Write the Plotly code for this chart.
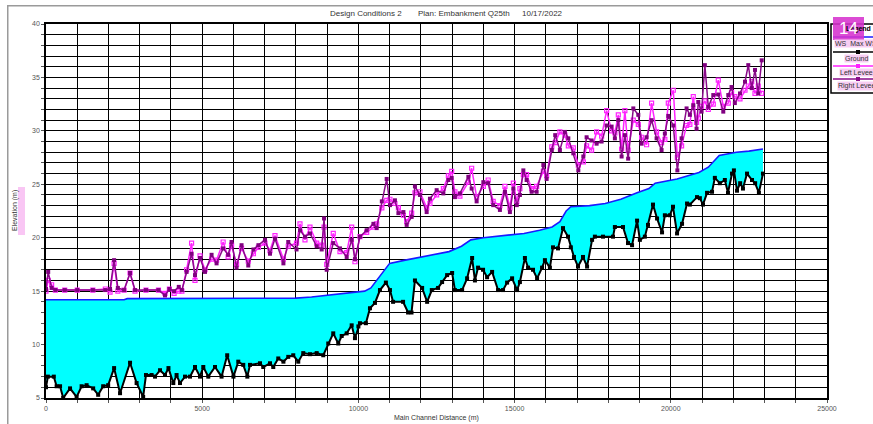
import plotly.graph_objects as go

# ---------------- data ----------------
ground_x = [0, 60, 250, 340, 450, 550, 770, 980, 1140, 1300, 1510, 1670, 1830, 1990, 2180, 2370,
            2690, 2900, 3110, 3200, 3380, 3490, 3650, 3810, 3920, 4075, 4180, 4290, 4450, 4610,
            4770, 4930, 5035, 5195, 5410, 5620, 5800, 6000, 6155, 6315, 6445, 6530, 6850, 6955,
            7170, 7275, 7435, 7600, 7755, 7915, 8075, 8235, 8450, 8665, 8875, 9035, 9195, 9355,
            9465, 9625, 9785, 9890, 10000, 10050, 10240, 10370, 10530, 10690, 10880, 11010, 11110,
            11430, 11590, 11700, 11810, 12040, 12200, 12350, 12550, 12680, 12840, 13000, 13090,
            13320, 13480, 13640, 13730, 13830, 13990, 14120, 14280, 14470, 14630, 14760, 14920,
            15080, 15170, 15330, 15430, 15590, 15720, 15880, 15970, 16130, 16230, 16390, 16550,
            16710, 16800, 16900, 17030, 17190, 17320, 17480, 17570, 17830, 18150, 18210, 18470,
            18630, 18760, 18920, 19010, 19170, 19270, 19430, 19560, 19720, 19810, 19970, 20070,
            20200, 20360, 20520, 20610, 20840, 20930, 21030, 21160, 21320, 21410, 21570, 21730,
            21830, 21960, 22020, 22120, 22220, 22310, 22440, 22600, 22700, 22820, 22950]
ground_y = [6.0, 7.0, 7.0, 6.1, 6.1, 5.0, 5.9, 5.1, 6.1, 6.2, 5.9, 5.3, 6.1, 6.2, 7.8, 5.45,
            8.3, 6.4, 5.1, 7.15, 7.15, 7.0, 7.6, 7.15, 7.8, 6.4, 7.15, 6.4, 7.0, 7.0,
            7.9, 7.0, 7.9, 7.0, 7.9, 7.0, 9.0, 7.0, 8.4, 8.1, 7.0, 8.1, 8.25, 7.9,
            8.25, 7.9, 8.7, 8.4, 8.85, 9.0, 8.4, 9.2, 9.1, 9.2, 9.0, 10.1, 11.05, 10.1,
            10.8, 11.05, 11.8, 10.6, 11.7, 12.0, 12.0, 13.4, 13.9, 15.1, 15.8, 15.1, 14.0,
            14.0, 13.0, 13.0, 16.0, 15.3, 14.0, 15.1, 15.3, 15.85, 16.5, 16.7, 15.1,
            15.1, 16.2, 18.1, 16.0, 17.2, 17.0, 16.3, 16.8, 15.1, 15.1, 15.8, 16.2,
            15.1, 15.85, 18.1, 17.2, 17.0, 16.2, 17.2, 17.9, 17.2, 19.1, 19.0, 20.9,
            20.1, 19.1, 18.2, 17.3, 18.2, 17.3, 19.8, 20.1, 20.1, 20.1, 21.0, 21.0,
            19.5, 19.3, 21.6, 19.8, 20.1, 21.2, 23.1, 21.8, 20.5, 22.1, 22.1, 22.9,
            20.4, 21.3, 23.2, 23.1, 23.8, 23.7, 23.1, 24.2, 24.3, 25.6, 25.1, 25.4,
            24.2, 26.0, 26.3, 24.4, 25.1, 24.6, 26.0, 25.4, 25.1, 24.2, 26.0]

ws_x = [0, 2500, 2600, 8000, 8500, 9000, 9400, 10000, 10200, 10400, 10700, 11000, 11500,
        12000, 12500, 12900, 13300, 13600, 14000, 14500, 15000, 15300, 15800, 16200, 16450,
        16650, 16800, 17400, 17900, 18400, 18920, 19300, 19500, 20200, 20900, 21200, 21550,
        22100, 22500, 22950]
ws_y = [14.2, 14.2, 14.3, 14.35, 14.45, 14.6, 14.7, 14.9, 15.0, 15.3, 16.5, 17.6, 17.9,
        18.2, 18.45, 18.7, 19.2, 19.8, 20.0, 20.15, 20.3, 20.4, 20.7, 21.0, 21.5,
        22.5, 22.9, 23.0, 23.2, 23.6, 24.2, 24.6, 25.1, 25.5, 26.1, 26.6, 27.7,
        28.0, 28.1, 28.3]

levee_x = [0, 70, 180, 300, 600, 1000, 1500, 1900, 2050, 2180, 2300, 2500, 2690, 2850, 3200,
           3600, 3810, 3950, 4100, 4250, 4350, 4500, 4660, 4770, 4930, 5090, 5300, 5460, 5670,
           5830, 5940, 6100, 6260, 6475, 6640, 6800, 7010, 7170, 7330, 7600, 7755, 8020, 8130,
           8290, 8450, 8665, 8825, 8900, 8985, 9195, 9410, 9625, 9785, 9890, 10050, 10265,
           10480, 10585, 10750, 10905, 11010, 11170, 11280, 11440, 11545, 11705, 11810, 11970,
           12185, 12290, 12505, 12720, 12880, 12985, 13090, 13250, 13520, 13625, 13785, 14000,
           14155, 14315, 14530, 14690, 14850, 14960, 15070, 15170, 15280, 15385, 15545, 15705,
           15920, 16025, 16190, 16300, 16450, 16610, 16720, 16880, 17040, 17200, 17305, 17465,
           17625, 17785, 17945, 18105, 18210, 18320, 18425, 18530, 18635, 18800, 18960, 19065,
           19225, 19385, 19545, 19705, 19810, 19920, 20080, 20210, 20345, 20505, 20610, 20720,
           20825, 20880, 20985, 21090, 21200, 21360, 21520, 21680, 21840, 21945, 22050, 22215,
           22375, 22480, 22590, 22695, 22800, 22910]
right_levee = [15.2, 16.8, 15.3, 15.1, 15.1, 15.1, 15.1, 15.1, 15.2, 17.9, 15.3, 15.1, 16.7, 15.1, 15.1,
               15.1, 14.6, 15.2, 15.0, 15.4, 15.1, 16.8, 18.5, 16.5, 18.1, 16.8, 18.4, 17.6, 19.0,
               18.4, 19.6, 17.2, 19.3, 17.4, 18.9, 19.3, 19.8, 18.5, 19.9, 17.6, 19.6, 18.9, 20.7,
               20.1, 20.4, 19.2, 18.9, 21.8, 17.0, 19.5, 19.0, 18.2, 19.8, 18.0, 20.1, 20.7,
               21.3, 20.9, 23.4, 25.5, 23.05, 23.5, 22.3, 22.4, 21.2, 21.95, 24.8, 24.0,
               22.4, 23.65, 24.45, 24.15, 25.4, 25.6, 23.8, 24.15, 25.7, 24.6, 23.4, 25.2,
               25.1, 23.05, 22.6, 24.3, 22.4, 24.6, 23.05, 24.0, 26.3, 25.4, 24.3, 24.3,
               26.8, 25.5, 28.2, 29.6, 28.2, 29.9, 29.3, 27.9, 26.3, 27.6, 29.4, 29.1,
               28.8, 29.0, 30.5, 30.4, 29.3, 31.0, 27.6, 29.6, 27.4, 32.1, 31.5, 28.8,
               29.4, 31.0, 29.3, 28.2, 29.75, 31.4, 30.5, 26.3, 29.3, 32.1, 31.5, 32.4,
               30.2, 32.7, 31.8, 36.15, 32.25, 33.35, 33.4, 31.8, 33.35, 34.1, 32.6, 33.5,
               34.6, 36.15, 34.0, 35.7, 33.5, 36.6]
left_levee = [15.0, 16.0, 15.6, 15.1, 15.1, 15.1, 15.1, 15.2, 14.9, 17.6, 15.0, 15.1, 16.7, 15.0, 15.1,
              15.1, 14.8, 15.2, 14.8, 15.0, 15.0, 17.0, 19.5, 16.0, 18.3, 17.0, 18.0, 17.9, 19.6,
              18.2, 19.3, 17.5, 19.0, 17.8, 18.5, 19.1, 19.5, 18.8, 20.2, 18.0, 19.2, 19.5, 21.3,
              19.8, 21.0, 19.5, 19.3, 21.0, 17.5, 20.4, 18.7, 18.6, 21.0, 17.75, 20.1, 20.5,
              21.0, 21.3, 22.8, 23.5, 23.6, 23.2, 22.8, 22.1, 21.5, 22.3, 24.2, 24.3,
              22.8, 23.2, 24.0, 24.6, 25.8, 26.2, 24.3, 23.9, 25.2, 26.5, 23.8, 24.8,
              25.4, 23.4, 23.0, 24.8, 22.8, 25.1, 23.4, 24.6, 25.9, 25.9, 24.6, 24.8,
              26.2, 25.8, 28.5, 28.9, 29.9, 29.6, 28.6, 28.4, 26.8, 27.1, 28.6, 28.2,
              29.9, 29.5, 31.9, 30.0, 29.8, 31.5, 28.3, 31.9, 28.2, 31.0, 30.6, 29.4,
              28.7, 32.6, 29.9, 28.9, 29.2, 32.6, 33.8, 27.5, 28.6, 30.5, 30.6, 33.2,
              30.8, 31.2, 32.3, 32.8, 32.0, 32.5, 34.75, 32.3, 32.6, 33.6, 33.2, 33.0,
              33.8, 34.2, 34.6, 33.5, 34.2, 33.5]

x_grid = list(range(0, 25001, 1000))
x_labels = ["0", "", "", "", "", "5000", "", "", "", "", "10000", "", "", "", "", "15000",
            "", "", "", "", "20000", "", "", "", "", "25000"]
y_grid = list(range(5, 41))
y_labels = [str(v) if v % 5 == 0 else "" for v in y_grid]

title_parts = ["Design Conditions 2", "Plan: Embankment Q25th", "10/17/2022"]
legend_names = ["WS  Max WS", "Ground", "Left Levee", "Right Levee"]

# ---------------- figure ----------------
W, H = 873, 424
L, R, T, B = 46, 827, 24, 398


def px(x):
    return (x - L) / (R - L)


def py(y):
    return (B - y) / (B - T)


FONT = "Liberation Sans, Arial, sans-serif"

fig = go.Figure()
# fill base (ground, invisible)
fig.add_trace(go.Scatter(x=ground_x, y=ground_y, mode="lines", line=dict(width=0, color="black"),
                         showlegend=False, hoverinfo="skip"))
fig.add_trace(go.Scatter(x=ws_x, y=ws_y, mode="lines", fill="tonexty", fillcolor="#00ffff",
                         line=dict(color="#1a1aff", width=1.6), name=legend_names[0], showlegend=False))
fig.add_trace(go.Scatter(x=ground_x, y=ground_y, mode="lines+markers",
                         line=dict(color="black", width=2),
                         marker=dict(symbol="square", size=4, color="black"),
                         name=legend_names[1], showlegend=False))
fig.add_trace(go.Scatter(x=levee_x, y=left_levee, mode="lines+markers",
                         line=dict(color="#ff22ff", width=1.5),
                         marker=dict(symbol="square-open", size=4, color="#ff22ff", line=dict(width=1.2)),
                         name=legend_names[2], showlegend=False))
fig.add_trace(go.Scatter(x=levee_x, y=right_levee, mode="lines+markers",
                         line=dict(color="#8a0a8a", width=1.5),
                         marker=dict(symbol="square", size=4, color="#800080"),
                         name=legend_names[3], showlegend=False))

axis_common = dict(showgrid=True, gridcolor="black", gridwidth=1.3, showline=True, linecolor="black",
                   linewidth=1.5, mirror=True, ticks="outside", ticklen=3, tickcolor="#555",
                   tickfont=dict(family=FONT, size=7, color="#555"), zeroline=False, automargin=False)

fig.update_layout(
    width=W, height=H,
    margin=dict(l=L, r=W - R, t=T, b=H - B, pad=0, autoexpand=False),
    paper_bgcolor="white", plot_bgcolor="white",
    xaxis=dict(range=[0, 25000], tickmode="array", tickvals=x_grid, ticktext=x_labels, **axis_common),
    yaxis=dict(range=[5, 40], tickmode="array", tickvals=y_grid, ticktext=y_labels, **axis_common),
    showlegend=False,
)

shapes = []
annotations = []
# outer frame (window border of the original screenshot): left + top edges, rest runs off-page
annotations.append(dict(text="", x=px(7), y=py(5), xref="paper", yref="paper", showarrow=False,
                        xanchor="left", yanchor="top", width=900, height=440,
                        bordercolor="#9a9a9a", borderwidth=1.5, borderpad=0))
# title
for txt, cx in zip(title_parts, [366, 464, 542]):
    annotations.append(dict(text=txt, x=px(cx), y=py(14), xref="paper", yref="paper", showarrow=False,
                            xanchor="center", yanchor="middle", font=dict(family=FONT, size=8, color="#333")))
# axis titles
shapes.append(dict(type="rect", xref="paper", yref="paper", x0=px(18), x1=px(25), y0=py(187), y1=py(235),
                   fillcolor="#f9c6f4", line=dict(width=0)))
annotations.append(dict(text="Elevation (m)", x=px(15), y=py(211), xref="paper", yref="paper",
                        showarrow=False, textangle=-90, xanchor="center", yanchor="middle",
                        font=dict(family=FONT, size=7, color="#333")))
annotations.append(dict(text="Main Channel Distance (m)", x=px(437), y=py(418), xref="paper", yref="paper",
                        showarrow=False, xanchor="center", yanchor="middle",
                        font=dict(family=FONT, size=7, color="#333")))
# legend box
shapes.append(dict(type="rect", xref="paper", yref="paper", x0=px(831), x1=px(900), y0=py(24), y1=py(93),
                   line=dict(color="black", width=1.5), fillcolor="white", layer="above"))
annotations.append(dict(text="<b>Legend</b>", x=px(858), y=py(29), xref="paper", yref="paper",
                        showarrow=False, xanchor="center", yanchor="middle",
                        font=dict(family=FONT, size=7, color="black")))
leg_colors = ["#1a1aff", "black", "#ff22ff", "#8a0a8a"]
line_y = [37, 52, 66, 79]
text_y = [43.5, 58.5, 72.5, 86]
for name, col, ly, ty, i in zip(legend_names, leg_colors, line_y, text_y, range(4)):
    shapes.append(dict(type="line", xref="paper", yref="paper", x0=px(833), x1=px(900), y0=py(ly), y1=py(ly),
                       line=dict(color=col, width=1.5), layer="above"))
    if i > 0:
        shapes.append(dict(type="rect", xref="paper", yref="paper", x0=px(856), x1=px(860),
                           y0=py(ly - 2), y1=py(ly + 2), fillcolor=col, line=dict(width=0), layer="above"))
    annotations.append(dict(text=name, x=px(856), y=py(ty), xref="paper", yref="paper", showarrow=False,
                            xanchor="center", yanchor="middle", bgcolor="#f7cdf3",
                            font=dict(family=FONT, size=7, color="#333"), borderpad=0))
# "14" badge
shapes.append(dict(type="rect", xref="paper", yref="paper", x0=px(833), x1=px(864), y0=py(17), y1=py(40),
                   fillcolor="rgba(214,50,206,0.88)", line=dict(width=0), layer="above"))
annotations.append(dict(text="14", x=px(848.5), y=py(28.5), xref="paper", yref="paper", showarrow=False,
                        xanchor="center", yanchor="middle", font=dict(family=FONT, size=17, color="white")))

fig.update_layout(shapes=shapes, annotations=annotations)
fig.write_html("out.html", config={"displayModeBar": False},
               post_script="document.body.style.margin='0';document.body.style.overflow='hidden';")
